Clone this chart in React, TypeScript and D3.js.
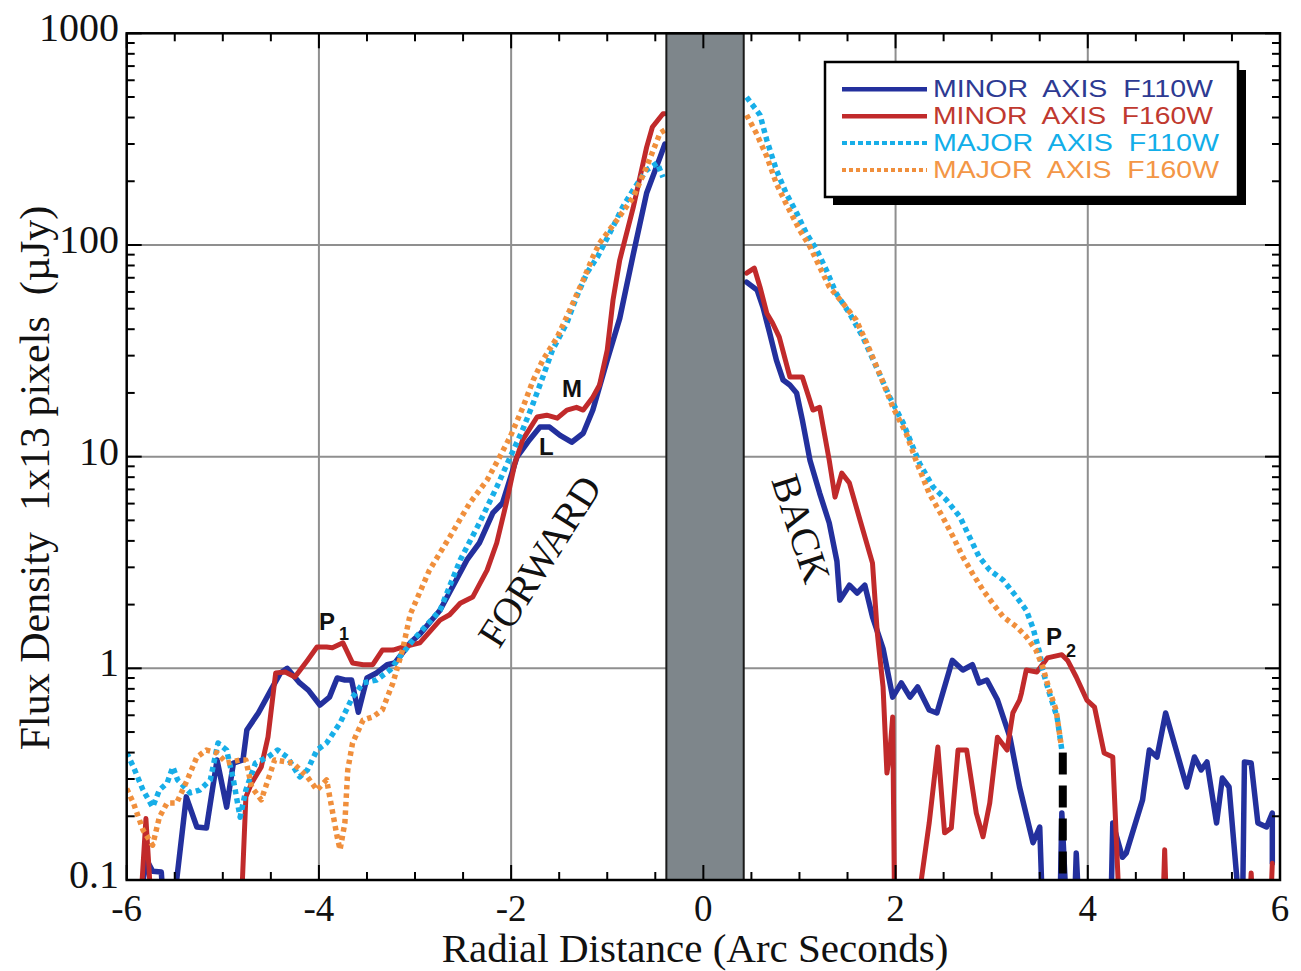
import React from "react";
import * as d3 from "d3";

type Pt = [number, number];

// ---- axis ticks / labels ----
const xTickValues = [-6, -4, -2, 0, 2, 4, 6];
const xTickLabels = ["-6", "-4", "-2", "0", "2", "4", "6"];
const yTickValues = [0.1, 1, 10, 100, 1000];
const yTickLabels = ["0.1", "1", "10", "100", "1000"];
const gridX = [-4, -2, 2, 4];
const gridY = [1, 10, 100];
const occultedRange = [-0.385, 0.42];

// ---- legend ----
const seriesNames = [
  "MINOR  AXIS  F110W",
  "MINOR  AXIS  F160W",
  "MAJOR  AXIS  F110W",
  "MAJOR  AXIS  F160W",
];

// ---- data (radial distance arcsec, flux density µJy) ----
const minorF110wForward: Pt[] = [
  [-5.85, 0.07], [-5.83, 0.1], [-5.79, 0.124], [-5.73, 0.11], [-5.64, 0.109], [-5.62, 0.08],
  [-5.55, 0.06], [-5.49, 0.08], [-5.48, 0.1], [-5.38, 0.247], [-5.27, 0.178], [-5.17, 0.176],
  [-5.06, 0.369], [-4.96, 0.221], [-4.89, 0.357], [-4.79, 0.369], [-4.75, 0.511], [-4.63, 0.615],
  [-4.5, 0.789], [-4.4, 0.951], [-4.33, 1.0], [-4.2, 0.853], [-4.11, 0.789], [-3.99, 0.671],
  [-3.89, 0.731], [-3.81, 0.9], [-3.73, 0.881], [-3.66, 0.881], [-3.59, 0.62], [-3.5, 0.9],
  [-3.4, 0.951], [-3.29, 1.04], [-3.21, 1.06], [-3.05, 1.32], [-2.95, 1.45], [-2.74, 1.88],
  [-2.46, 3.25], [-2.33, 3.91], [-2.19, 5.42], [-2.09, 6.04], [-1.94, 9.95], [-1.81, 12.0],
  [-1.7, 13.8], [-1.6, 13.8], [-1.49, 12.6], [-1.37, 11.7], [-1.25, 12.9], [-1.15, 16.6],
  [-1.0, 28.6], [-0.87, 45], [-0.73, 90], [-0.59, 176], [-0.45, 260], [-0.4, 300],
];
const minorF110wBack: Pt[] = [
  [0.45, 66.8], [0.56, 61.2], [0.62, 50.9], [0.69, 38.4], [0.76, 28.6], [0.83, 23.0], [0.9, 21.8],
  [0.97, 20.0], [1.03, 14.9], [1.11, 9.6], [1.21, 6.73], [1.31, 4.86], [1.39, 3.2], [1.42, 2.1],
  [1.52, 2.47], [1.6, 2.27], [1.68, 2.47], [1.76, 1.75], [1.87, 1.24], [1.97, 0.731], [2.06, 0.853],
  [2.15, 0.731], [2.23, 0.816], [2.35, 0.636], [2.43, 0.615], [2.59, 1.09], [2.7, 0.982],
  [2.8, 1.04], [2.87, 0.853], [2.95, 0.881], [3.06, 0.71], [3.19, 0.473], [3.29, 0.275],
  [3.43, 0.15], [3.5, 0.178], [3.53, 0.07], [3.71, 0.07], [3.73, 0.207], [3.78, 0.07], [3.86, 0.07],
  [3.88, 0.134], [3.91, 0.07], [4.24, 0.07], [4.26, 0.186], [4.36, 0.128], [4.4, 0.134],
  [4.57, 0.239], [4.64, 0.411], [4.72, 0.381], [4.81, 0.615], [4.92, 0.411], [5.03, 0.275],
  [5.11, 0.381], [5.18, 0.331], [5.24, 0.361], [5.34, 0.186], [5.4, 0.303], [5.47, 0.275],
  [5.55, 0.103], [5.58, 0.07], [5.61, 0.07], [5.63, 0.361], [5.7, 0.357], [5.77, 0.186],
  [5.86, 0.178], [5.92, 0.207], [5.92, 0.12],
];
const minorF160wForward: Pt[] = [
  [-5.86, 0.07], [-5.8, 0.195], [-5.74, 0.07], [-4.81, 0.07], [-4.76, 0.247], [-4.7, 0.287],
  [-4.6, 0.342], [-4.53, 0.473], [-4.45, 0.951], [-4.35, 0.961], [-4.25, 0.91], [-4.12, 1.09],
  [-4.02, 1.26], [-3.92, 1.26], [-3.86, 1.25], [-3.75, 1.32], [-3.65, 1.06], [-3.54, 1.04],
  [-3.44, 1.04], [-3.34, 1.22], [-3.23, 1.22], [-3.13, 1.26], [-2.95, 1.32], [-2.74, 1.69],
  [-2.64, 1.79], [-2.53, 2.03], [-2.4, 2.17], [-2.25, 2.91], [-2.15, 3.91], [-2.05, 6.04],
  [-1.96, 9.33], [-1.88, 12.0], [-1.73, 15.4], [-1.63, 15.7], [-1.52, 15.2], [-1.42, 16.6],
  [-1.32, 17.1], [-1.25, 16.6], [-1.15, 19.1], [-1.08, 21.8], [-1.0, 31.9], [-0.94, 54.9],
  [-0.87, 84.9], [-0.73, 150], [-0.59, 290], [-0.53, 361], [-0.42, 417], [-0.4, 417],
];
const minorF160wBack: Pt[] = [
  [0.45, 73.6], [0.53, 77.8], [0.59, 63.2], [0.66, 47.6], [0.72, 42.8], [0.79, 36.7], [0.9, 23.8],
  [1.03, 23.8], [1.14, 16.6], [1.21, 17.1], [1.31, 9.6], [1.37, 6.44], [1.44, 8.36], [1.52, 7.5],
  [1.63, 5.02], [1.76, 3.14], [1.81, 1.47], [1.87, 0.816], [1.91, 0.32], [1.94, 0.398],
  [1.97, 0.589], [1.99, 0.07], [2.22, 0.07], [2.35, 0.186], [2.44, 0.425], [2.51, 0.167],
  [2.58, 0.176], [2.65, 0.411], [2.74, 0.411], [2.84, 0.207], [2.91, 0.16], [2.98, 0.231],
  [3.06, 0.473], [3.16, 0.411], [3.22, 0.615], [3.29, 0.708], [3.31, 0.764], [3.36, 0.982],
  [3.47, 0.961], [3.58, 1.12], [3.73, 1.16], [3.79, 1.09], [3.88, 0.91], [3.99, 0.708],
  [4.07, 0.656], [4.17, 0.398], [4.26, 0.381], [4.33, 0.07], [4.78, 0.07], [4.8, 0.139],
  [4.82, 0.07], [5.68, 0.07], [5.7, 0.108], [5.72, 0.07], [5.9, 0.07], [5.92, 0.12],
];
const majorF110wForward: Pt[] = [
  [-6.0, 0.4], [-5.93, 0.342], [-5.83, 0.266], [-5.73, 0.221], [-5.66, 0.266], [-5.58, 0.287],
  [-5.52, 0.342], [-5.47, 0.297], [-5.34, 0.258], [-5.24, 0.266], [-5.13, 0.297], [-5.05, 0.444],
  [-4.96, 0.411], [-4.89, 0.297], [-4.82, 0.198], [-4.76, 0.266], [-4.66, 0.357], [-4.53, 0.381],
  [-4.43, 0.411], [-4.33, 0.381], [-4.2, 0.307], [-4.12, 0.331], [-4.02, 0.411], [-3.92, 0.444],
  [-3.78, 0.552], [-3.65, 0.731], [-3.54, 0.853], [-3.4, 0.881], [-3.26, 0.982], [-3.16, 1.13],
  [-3.02, 1.36], [-2.74, 1.88], [-2.53, 3.25], [-2.33, 4.86], [-2.15, 7.18], [-2.01, 9.95],
  [-1.88, 13.4], [-1.77, 17.9], [-1.67, 23.8], [-1.57, 31.9], [-1.42, 42.8], [-1.32, 56.7],
  [-1.21, 74], [-1.1, 88], [-0.94, 122], [-0.84, 151], [-0.73, 182], [-0.59, 226], [-0.48, 244],
  [-0.42, 209],
];
const majorF110wBack: Pt[] = [
  [0.45, 500], [0.59, 411], [0.66, 313], [0.76, 226], [0.86, 176], [0.97, 142], [1.07, 114],
  [1.18, 94.6], [1.28, 76.1], [1.38, 59.3], [1.52, 47.6], [1.66, 36.7], [1.8, 26.5], [1.94, 19.1],
  [2.08, 14.4], [2.15, 12.0], [2.25, 9.3], [2.39, 7.18], [2.53, 6.24], [2.67, 5.19], [2.77, 4.17],
  [2.87, 3.36], [2.98, 2.91], [3.12, 2.61], [3.26, 2.17], [3.36, 1.88], [3.43, 1.55], [3.5, 1.18],
  [3.53, 0.98], [3.6, 0.764], [3.68, 0.589], [3.73, 0.411],
];
const majorF160wForward: Pt[] = [
  [-6.0, 0.27], [-5.93, 0.231], [-5.83, 0.172], [-5.73, 0.146], [-5.66, 0.198], [-5.58, 0.231],
  [-5.48, 0.231], [-5.37, 0.297], [-5.27, 0.381], [-5.17, 0.411], [-5.06, 0.398], [-4.96, 0.357],
  [-4.82, 0.369], [-4.76, 0.369], [-4.7, 0.275], [-4.6, 0.239], [-4.46, 0.369], [-4.27, 0.357],
  [-4.12, 0.307], [-4.02, 0.266], [-3.92, 0.297], [-3.81, 0.16], [-3.78, 0.139], [-3.73, 0.186],
  [-3.7, 0.331], [-3.65, 0.444], [-3.54, 0.57], [-3.44, 0.589], [-3.34, 0.636], [-3.23, 0.853],
  [-3.13, 1.22], [-3.05, 1.8], [-2.85, 2.91], [-2.64, 4.17], [-2.43, 6.04], [-2.25, 7.75],
  [-2.12, 9.95], [-2.01, 12.4], [-1.88, 17.0], [-1.77, 23.0], [-1.67, 28.6], [-1.52, 36.7],
  [-1.39, 49.2], [-1.25, 68.3], [-1.15, 87.7], [-1.08, 102], [-0.9, 131], [-0.73, 168],
  [-0.59, 234], [-0.45, 338], [-0.4, 349],
];
const majorF160wBack: Pt[] = [
  [0.45, 411], [0.55, 338], [0.66, 262], [0.76, 195], [0.86, 157], [1.0, 118], [1.11, 98],
  [1.21, 78.8], [1.31, 63.5], [1.45, 53.2], [1.59, 44.2], [1.7, 34.4], [1.83, 24.9], [1.97, 17.2],
  [2.11, 12.9], [2.22, 9.4], [2.35, 6.7], [2.49, 5.19], [2.6, 4.17], [2.7, 3.36], [2.8, 2.81],
  [2.91, 2.34], [3.01, 2.03], [3.12, 1.75], [3.26, 1.57], [3.36, 1.41], [3.46, 1.22], [3.53, 1.02],
  [3.6, 0.79], [3.67, 0.636], [3.72, 0.444],
];
const limitMarker: Pt[] = [[3.74, 0.4], [3.74, 0.1]];

// ---- styles ----
const BLUE = "#23309d";
const RED = "#c12a2b";
const CYAN = "#17aee8";
const ORANGE = "#f08f3c";

const W = 1301;
const H = 971;
const PL = 126.7;
const PR = 1280;
const PT = 33.3;
const PB = 880;

export default function App() {
  const x = d3.scaleLinear().domain([-6, 6]).range([PL, PR]);
  const y = d3.scaleLog().domain([0.1, 1000]).range([PB, PT]);
  const line = d3.line<Pt>().x((d) => x(d[0])).y((d) => y(d[1]));

  const xMinor = d3.range(-6, 6.001, 0.5);
  const yMinor: number[] = [];
  [0.1, 1, 10, 100].forEach((dec) => {
    for (let k = 2; k <= 9; k++) yMinor.push(k * dec);
  });

  const series = [
    { fw: minorF110wForward, bk: minorF110wBack, color: BLUE, w: 5.5, dash: undefined as string | undefined },
    { fw: minorF160wForward, bk: minorF160wBack, color: RED, w: 5, dash: undefined as string | undefined },
    { fw: majorF110wForward, bk: majorF110wBack, color: CYAN, w: 5.5, dash: "5 4" },
    { fw: majorF160wForward, bk: majorF160wBack, color: ORANGE, w: 5.5, dash: "4.5 4" },
  ];
  const legendColors = [BLUE, RED, CYAN, ORANGE];
  const legendTextColors = ["#2d3a92", "#c0392f", "#12aee9", "#f39646"];

  const serif = "'Liberation Serif', 'Times New Roman', serif";
  const sans = "'Liberation Sans', Arial, Helvetica, sans-serif";

  return (
    <svg
      width={W}
      height={H}
      style={{ position: "absolute", left: 0, top: 0, background: "#fff" }}
    >
      <defs>
        <clipPath id="plotClip">
          <rect x={PL} y={PT} width={PR - PL} height={PB - PT} />
        </clipPath>
      </defs>
      <rect x={0} y={0} width={W} height={H} fill="#fff" />

      {/* grid */}
      {gridX.map((v) => (
        <line key={"gx" + v} x1={x(v)} x2={x(v)} y1={PT} y2={PB} stroke="#8f8f8f" strokeWidth={2} />
      ))}
      {gridY.map((v) => (
        <line key={"gy" + v} x1={PL} x2={PR} y1={y(v)} y2={y(v)} stroke="#8f8f8f" strokeWidth={2} />
      ))}

      {/* data */}
      <g clipPath="url(#plotClip)">
        {series.map((s, i) => (
          <g key={"s" + i}>
            {[s.fw, s.bk].map((pts, j) => (
              <path
                key={j}
                d={line(pts) || ""}
                fill="none"
                stroke={s.color}
                strokeWidth={s.w}
                strokeDasharray={s.dash}
                strokeLinejoin="round"
                strokeLinecap={s.dash ? "butt" : "round"}
              />
            ))}
          </g>
        ))}
        <path
          d={line(limitMarker) || ""}
          stroke="#000"
          strokeWidth={8}
          strokeDasharray="22 11"
          fill="none"
        />
      </g>

      {/* occulted band */}
      <rect
        x={x(occultedRange[0])}
        y={PT}
        width={x(occultedRange[1]) - x(occultedRange[0])}
        height={PB - PT}
        fill="#7e868b"
        stroke="#1a1a1a"
        strokeWidth={2}
      />

      {/* ticks */}
      {xMinor.map((v) => {
        const major = Math.abs(v % 2) < 1e-6;
        const len = major ? 15 : 8;
        return (
          <g key={"xt" + v}>
            <line x1={x(v)} x2={x(v)} y1={PB} y2={PB - len} stroke="#000" strokeWidth={2} />
            <line x1={x(v)} x2={x(v)} y1={PT} y2={PT + len} stroke="#000" strokeWidth={2} />
          </g>
        );
      })}
      {yMinor.map((v) => (
        <g key={"ym" + v}>
          <line x1={PL} x2={PL + 8} y1={y(v)} y2={y(v)} stroke="#000" strokeWidth={2} />
          <line x1={PR} x2={PR - 8} y1={y(v)} y2={y(v)} stroke="#000" strokeWidth={2} />
        </g>
      ))}
      {yTickValues.map((v) => (
        <g key={"yM" + v}>
          <line x1={PL} x2={PL + 15} y1={y(v)} y2={y(v)} stroke="#000" strokeWidth={2} />
          <line x1={PR} x2={PR - 15} y1={y(v)} y2={y(v)} stroke="#000" strokeWidth={2} />
        </g>
      ))}

      {/* frame */}
      <rect x={PL} y={PT} width={PR - PL} height={PB - PT} fill="none" stroke="#000" strokeWidth={2.5} />

      {/* tick labels */}
      {yTickValues.map((v, i) => (
        <text
          key={"yl" + v}
          x={119}
          y={y(v) + 8}
          textAnchor="end"
          fontFamily={serif}
          fontSize={40}
          fill="#111"
        >
          {yTickLabels[i]}
        </text>
      ))}
      {xTickValues.map((v, i) => (
        <text
          key={"xl" + v}
          x={x(v)}
          y={921}
          textAnchor="middle"
          fontFamily={serif}
          fontSize={37}
          fill="#111"
        >
          {xTickLabels[i]}
        </text>
      ))}

      {/* axis titles */}
      <text x={695} y={962} textAnchor="middle" fontFamily={serif} fontSize={41} fill="#111">
        Radial Distance (Arc Seconds)
      </text>
      <text
        transform="translate(49,478) rotate(-90)"
        textAnchor="middle"
        fontFamily={serif}
        fontSize={42}
        fill="#111"
        xmlSpace="preserve"
        style={{ whiteSpace: "pre" }}
      >
        {"Flux Density  1x13 pixels  (\u00B5Jy)"}
      </text>

      {/* region labels */}
      <text
        transform="translate(499,650) rotate(-57.5)"
        fontFamily={serif}
        fontSize={40}
        fill="#111"
      >
        FORWARD
      </text>
      <text
        transform="translate(771,480) rotate(72)"
        fontFamily={serif}
        fontSize={40}
        fill="#111"
      >
        BACK
      </text>

      {/* annotations */}
      <g fontFamily={sans} fontWeight="bold" fill="#111">
        <text x={319} y={630} fontSize={24}>P</text>
        <text x={339} y={640} fontSize={18}>1</text>
        <text x={562} y={397} fontSize={24}>M</text>
        <text x={539} y={455} fontSize={24}>L</text>
        <text x={1046} y={645} fontSize={24}>P</text>
        <text x={1066} y={657} fontSize={18}>2</text>
      </g>

      {/* legend */}
      <rect x={833} y={70} width={413} height={135} fill="#000" />
      <rect x={825} y={62} width={413} height={135} fill="#fff" stroke="#000" strokeWidth={2.5} />
      {seriesNames.map((name, i) => {
        const ly = 89.3 + i * 26.9;
        const s = series[i];
        return (
          <g key={"lg" + i}>
            <line
              x1={842}
              x2={927}
              y1={ly}
              y2={ly}
              stroke={legendColors[i]}
              strokeWidth={s.dash ? 4 : 4.5}
              strokeDasharray={s.dash ? (i === 2 ? "5 3" : "4 3") : undefined}
            />
            <text
              x={933}
              y={ly + 7.5}
              fontFamily={sans}
              fontSize={23.5}
              textLength={i < 2 ? 280 : 286}
              lengthAdjust="spacingAndGlyphs"
              fill={legendTextColors[i]}
              xmlSpace="preserve"
              style={{ whiteSpace: "pre" }}
            >
              {name}
            </text>
          </g>
        );
      })}
    </svg>
  );
}
